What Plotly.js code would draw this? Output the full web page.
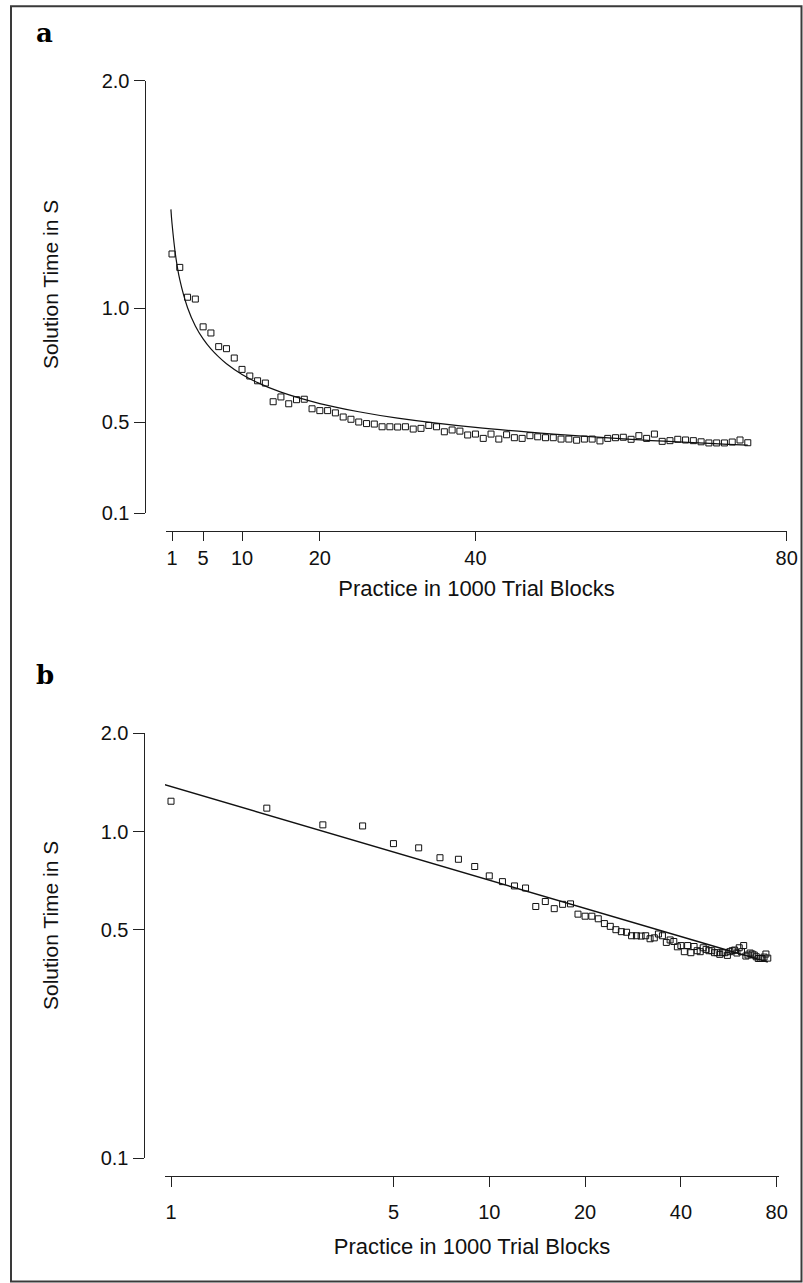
<!DOCTYPE html>
<html>
<head>
<meta charset="utf-8">
<script src="https://cdn.plot.ly/plotly-3.0.1.min.js"></script>
<style>
  html, body { margin: 0; padding: 0; background: #ffffff; }
  #chart { width: 803px; height: 1283px; }
</style>
</head>
<body>
<div id="chart"></div>
<script>
// Practice block number (in 1000-trial blocks)
const blocks = [
  1, 2, 3, 4, 5, 6, 7, 8, 9, 10,
  11, 12, 13, 14, 15, 16, 17, 18, 19, 20,
  21, 22, 23, 24, 25, 26, 27, 28, 29, 30,
  31, 32, 33, 34, 35, 36, 37, 38, 39, 40,
  41, 42, 43, 44, 45, 46, 47, 48, 49, 50,
  51, 52, 53, 54, 55, 56, 57, 58, 59, 60,
  61, 62, 63, 64, 65, 66, 67, 68, 69, 70,
  71, 72, 73, 74, 75
];
// Mean solution time (s) per block
const solutionTime = [
  1.239, 1.180, 1.049, 1.041, 0.919, 0.892, 0.832, 0.823, 0.782, 0.732,
  0.703, 0.682, 0.672, 0.590, 0.611, 0.581, 0.599, 0.601, 0.559, 0.551,
  0.551, 0.541, 0.523, 0.513, 0.501, 0.494, 0.492, 0.480, 0.480, 0.479,
  0.480, 0.470, 0.473, 0.486, 0.480, 0.458, 0.466, 0.461, 0.444, 0.448,
  0.429, 0.448, 0.426, 0.445, 0.432, 0.429, 0.441, 0.436, 0.432, 0.432,
  0.426, 0.426, 0.421, 0.426, 0.426, 0.418, 0.429, 0.432, 0.434, 0.425,
  0.441, 0.429, 0.448, 0.416, 0.419, 0.425, 0.422, 0.419, 0.414, 0.409,
  0.409, 0.409, 0.413, 0.422, 0.410
];
// Fitted power-function curve
const fitX = [0.86, 1, 1.5, 2, 3, 4, 5, 6, 7, 8, 10, 12, 15, 20, 25, 30, 40, 50, 60, 75];
const fitY = [1.435, 1.374, 1.223, 1.126, 1.003, 0.923, 0.866, 0.822, 0.787, 0.757,
              0.710, 0.674, 0.632, 0.582, 0.546, 0.518, 0.477, 0.448, 0.425, 0.399];
// Tick labels and titles
const xTicks = [1, 5, 10, 20, 40, 80];
const xTickText = ['1', '5', '10', '20', '40', '80'];
const yTicks = [0.1, 0.5, 1.0, 2.0];
const yTickText = ['0.1', '0.5', '1.0', '2.0'];
const xTitle = 'Practice in 1000 Trial Blocks';
const yTitle = 'Solution Time in S';

const W = 803, H = 1283;
const px = v => v / W;          // horizontal pixel -> paper fraction
const py = v => 1 - v / H;      // vertical pixel (from top) -> paper fraction

const sansFont = 'Liberation Sans, Arial, Helvetica, sans-serif';
const ink = '#111111';

const markerStyle = {
  symbol: 'square-open', size: 6, color: ink, line: { width: 1, color: ink }
};

const traces = [
  { x: blocks, y: solutionTime, xaxis: 'x', yaxis: 'y', type: 'scatter', mode: 'markers',
    marker: markerStyle, cliponaxis: false, showlegend: false },
  { x: fitX, y: fitY, xaxis: 'x', yaxis: 'y', type: 'scatter', mode: 'lines',
    line: { color: ink, width: 1.2, shape: 'spline' }, showlegend: false },
  { x: blocks, y: solutionTime, xaxis: 'x2', yaxis: 'y2', type: 'scatter', mode: 'markers',
    marker: markerStyle, cliponaxis: false, showlegend: false },
  { x: fitX, y: fitY, xaxis: 'x2', yaxis: 'y2', type: 'scatter', mode: 'lines',
    line: { color: ink, width: 1.4 }, showlegend: false }
];

const axisCommon = {
  showgrid: false, zeroline: false, showline: true, linecolor: '#222222', linewidth: 1,
  ticks: 'outside', tickcolor: '#222222', tickwidth: 1,
  tickfont: { family: sansFont, size: 20, color: ink },
  fixedrange: true
};
const titleFont = { family: sansFont, size: 22, color: ink };

// Panel a: linear axes
const aXslope = (786.7 - 172) / 79;
const aXrange = [1 + (166 - 172) / aXslope, 80 + (787 - 786.7) / aXslope];
// Panel b: log axes
const bDec = (776.7 - 171) / Math.log10(80);
const bXrange = [(165 - 171) / bDec, (779 - 171) / bDec];

const layout = {
  width: W, height: H,
  margin: { l: 0, r: 0, t: 0, b: 0, pad: 0 },
  paper_bgcolor: '#ffffff', plot_bgcolor: 'rgba(0,0,0,0)',
  showlegend: false,
  font: { family: sansFont, color: ink },
  xaxis: Object.assign({}, axisCommon, {
    domain: [px(166), px(787)], range: aXrange, anchor: 'free', position: py(530.7),
    tickmode: 'array', tickvals: xTicks, ticktext: xTickText, ticklen: 9,
    title: { text: xTitle, font: titleFont, standoff: 12 }
  }),
  yaxis: Object.assign({}, axisCommon, {
    domain: [py(513.3), py(80.7)], range: [0.1, 2.0], anchor: 'free', position: px(144.5),
    tickmode: 'array', tickvals: yTicks, ticktext: yTickText, ticklen: 11
  }),
  xaxis2: Object.assign({}, axisCommon, {
    type: 'log', domain: [px(165), px(779)], range: bXrange, anchor: 'free', position: py(1176.2),
    tickmode: 'array', tickvals: xTicks, ticktext: xTickText, ticklen: 10, ticklabelstandoff: 8,
    title: { text: xTitle, font: titleFont, standoff: 16 }
  }),
  yaxis2: Object.assign({}, axisCommon, {
    type: 'log', domain: [py(1158.3), py(733.3)], range: [-1, Math.log10(2)], anchor: 'free', position: px(143.5),
    tickmode: 'array', tickvals: yTicks, ticktext: yTickText, ticklen: 11
  }),
  annotations: [
    { text: '<b>a</b>', xref: 'paper', yref: 'paper', x: px(44), y: py(33), xanchor: 'center', yanchor: 'middle',
      showarrow: false, font: { family: 'DejaVu Serif, Liberation Serif, serif', size: 26, color: '#000' } },
    { text: '<b>b</b>', xref: 'paper', yref: 'paper', x: px(45), y: py(675), xanchor: 'center', yanchor: 'middle',
      showarrow: false, font: { family: 'DejaVu Serif, Liberation Serif, serif', size: 26, color: '#000' } },
    { text: yTitle, xref: 'paper', yref: 'paper', x: px(50), y: py(285), xanchor: 'center', yanchor: 'middle',
      textangle: -90, showarrow: false, font: { family: sansFont, size: 21, color: ink } },
    { text: yTitle, xref: 'paper', yref: 'paper', x: px(50), y: py(926), xanchor: 'center', yanchor: 'middle',
      textangle: -90, showarrow: false, font: { family: sansFont, size: 21, color: ink } }
  ],
  shapes: [
    { type: 'rect', xref: 'paper', yref: 'paper', x0: px(11), x1: px(801.5), y0: py(1281.5), y1: py(6.3),
      line: { color: '#3a3a3a', width: 2 }, fillcolor: 'rgba(0,0,0,0)' }
  ]
};

Plotly.newPlot('chart', traces, layout, { displayModeBar: false, staticPlot: true });
</script>
</body>
</html>
